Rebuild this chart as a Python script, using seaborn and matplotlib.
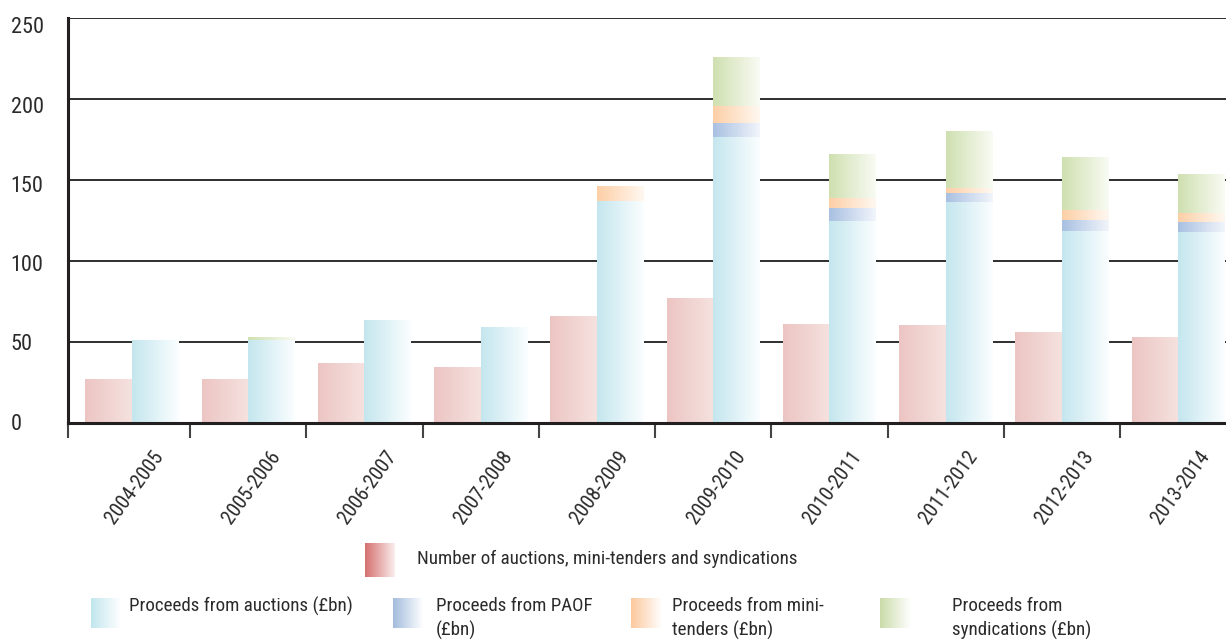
import numpy as np
import pandas as pd
import matplotlib
matplotlib.use("Agg")
import matplotlib.pyplot as plt
import seaborn as sns
from matplotlib.colors import LinearSegmentedColormap
from matplotlib.transforms import ScaledTranslation

# ---- data -------------------------------------------------------------
years = ["2004-2005", "2005-2006", "2006-2007", "2007-2008", "2008-2009",
         "2009-2010", "2010-2011", "2011-2012", "2012-2013", "2013-2014"]
operations = [27, 27, 37, 34, 66, 77, 61, 60, 56, 53]          # number of operations
auctions = [51, 51, 63, 59, 137, 176, 124.5, 136, 118, 117.5]  # £bn
paof = [0, 0, 0, 0, 0, 9, 8, 5.5, 7, 6]                        # £bn
mini_tenders = [0, 0, 0, 0, 9, 10.5, 6, 3, 6, 6]               # £bn
syndications = [0, 1.7, 0, 0, 0, 30, 27, 35.5, 33, 24]         # £bn

y_ticks = [0, 50, 100, 150, 200, 250]

legend_labels = [
    "Number of auctions, mini-tenders and syndications",
    "Proceeds from auctions (£bn)",
    "Proceeds from PAOF\n(£bn)",
    "Proceeds from mini-\ntenders (£bn)",
    "Proceeds from\nsyndications (£bn)",
]

# ---- styling ----------------------------------------------------------
sns.set_theme(style="white")
plt.rcParams["font.family"] = ["Roboto Condensed", "Archivo Narrow", "PT Sans Narrow",
                               "Liberation Sans", "DejaVu Sans"]
TEXT = "#2b2b2b"
AXIS = "#231f20"

# bar gradients (left colour -> right colour)
bar_grad = {
    "count": ("#ecc5c3", "#f5e2df"),
    "auctions": ("#c4e6ee", "#fbfeff"),
    "paof": ("#a8c0e1", "#f2f5fb"),
    "mini": ("#fdcfa6", "#fff8f1"),
    "synd": ("#cfe0b0", "#f9fbf4"),
}
# legend swatch gradients
legend_grad = [
    ("#d4706e", "#fbeeee"),
    ("#c2e6ee", "#ffffff"),
    ("#a2bcdd", "#ffffff"),
    ("#fcc89c", "#ffffff"),
    ("#cbdcaa", "#ffffff"),
]

W, H, DPI = 1226, 644, 100
fig = plt.figure(figsize=(W / DPI, H / DPI), dpi=DPI)
ax_left, ax_right, ax_top, ax_bottom = 68, 1226, 18.3, 423.3
ax = fig.add_axes([ax_left / W, 1 - ax_bottom / H,
                   (ax_right - ax_left) / W, (ax_bottom - ax_top) / H])

hue_order = ["count", "proceeds"]
palette = {"count": "#ecc5c3", "proceeds": "#c4e6ee"}

# cumulative stack heights, drawn tallest first
auc = np.array(auctions, dtype=float)
cum_paof = auc + np.array(paof)
cum_mini = cum_paof + np.array(mini_tenders)
cum_synd = cum_mini + np.array(syndications)

layers = [("count", np.array(operations, dtype=float), "count"),
          ("synd", cum_synd, "proceeds"),
          ("mini", cum_mini, "proceeds"),
          ("paof", cum_paof, "proceeds"),
          ("auctions", auc, "proceeds")]

patch_styles = []
for name, vals, kind in layers:
    n_before = len(ax.patches)
    df = pd.DataFrame({"year": years, "value": vals, "kind": kind})
    sns.barplot(data=df, x="year", y="value", hue="kind", hue_order=hue_order,
                order=years, dodge=True, width=0.8, palette=palette,
                legend=False, errorbar=None, linewidth=0, ax=ax)
    for p in ax.patches[n_before:]:
        patch_styles.append((p, bar_grad[name]))

# replace flat fills by horizontal gradients clipped to each bar
grad = np.linspace(0, 1, 256).reshape(1, -1)
for i, (p, (c0, c1)) in enumerate(patch_styles):
    x0, y0, w, h = p.get_x(), p.get_y(), p.get_width(), p.get_height()
    if h <= 0:
        p.set_visible(False)
        continue
    cmap = LinearSegmentedColormap.from_list("g", [c0, c1])
    ax.imshow(grad, cmap=cmap, extent=[x0, x0 + w, y0, y0 + h], aspect="auto",
              interpolation="bilinear", zorder=1 + i * 0.001)
    p.set_visible(False)

# ---- axes -------------------------------------------------------------
px_per_cat = 116.25
x_lo = -0.5 - 5.75 / px_per_cat
ax.set_xlim(x_lo, x_lo + (ax_right - ax_left) / px_per_cat)
ax.set_ylim(0, 250)
ax.set_aspect("auto")

ax.set_xlabel("")
ax.set_ylabel("")
ax.yaxis.grid(True, color="#2e2e2e", linewidth=1.4)
ax.xaxis.grid(False)
ax.set_axisbelow(True)

for s in ["top", "right"]:
    ax.spines[s].set_visible(False)
for s in ["left", "bottom"]:
    ax.spines[s].set_color(AXIS)
    ax.spines[s].set_linewidth(2.2)
    ax.spines[s].set_zorder(5)

ax.set_yticks(y_ticks)
ax.set_yticklabels([str(v) for v in y_ticks])
ax.tick_params(axis="y", length=0, pad=41.3, labelsize=16, labelcolor=TEXT)
for v, lab in zip(y_ticks, ax.get_yticklabels()):
    lab.set_horizontalalignment("left")
    shift = -1.6 + 8.6 * v / 250.0     # labels sit slightly under their gridline
    lab.set_transform(lab.get_transform() +
                      ScaledTranslation(0, -shift / DPI, fig.dpi_scale_trans))

ax.set_xticks(range(len(years)))
ax.set_xticklabels(years)
ax.tick_params(axis="x", which="major", length=0, pad=21.5, labelsize=14.6, labelcolor=TEXT)
ax.set_xticks([x_lo] + [i + 0.5 for i in range(len(years) - 1)], minor=True)
ax.tick_params(axis="x", which="minor", length=10.5, width=1.5, color="#444444",
               direction="out", bottom=True)
for lab in ax.get_xticklabels():
    lab.set_rotation(54)
    lab.set_rotation_mode("anchor")
    lab.set_horizontalalignment("right")
    lab.set_verticalalignment("center")
    lab.set_transform(lab.get_transform() + ScaledTranslation(28 / DPI, 0, fig.dpi_scale_trans))

# ---- legend -----------------------------------------------------------
def swatch(x0, y0, x1, y1, colors):
    sax = fig.add_axes([x0 / W, 1 - y1 / H, (x1 - x0) / W, (y1 - y0) / H])
    sax.imshow(grad, cmap=LinearSegmentedColormap.from_list("s", list(colors)),
               aspect="auto", interpolation="bilinear")
    sax.set_axis_off()

LEG_FS = 13.7
swatch(365, 543.3, 395, 576.7, legend_grad[0])
fig.text(416.7 / W, 1 - 558.5 / H, legend_labels[0], ha="left", va="center",
         fontsize=LEG_FS, color=TEXT)

row2 = [(90.7, 129.3), (393.3, 436.0), (631.0, 671.7), (880.0, 951.7)]
for k, (sx, tx) in enumerate(row2):
    swatch(sx, 598.3, sx + 30, 628.3, legend_grad[k + 1])
    fig.text(tx / W, 1 - 597 / H, legend_labels[k + 1], ha="left", va="top",
             fontsize=LEG_FS, color=TEXT, linespacing=1.38)

fig.savefig("out.png", dpi=DPI)
